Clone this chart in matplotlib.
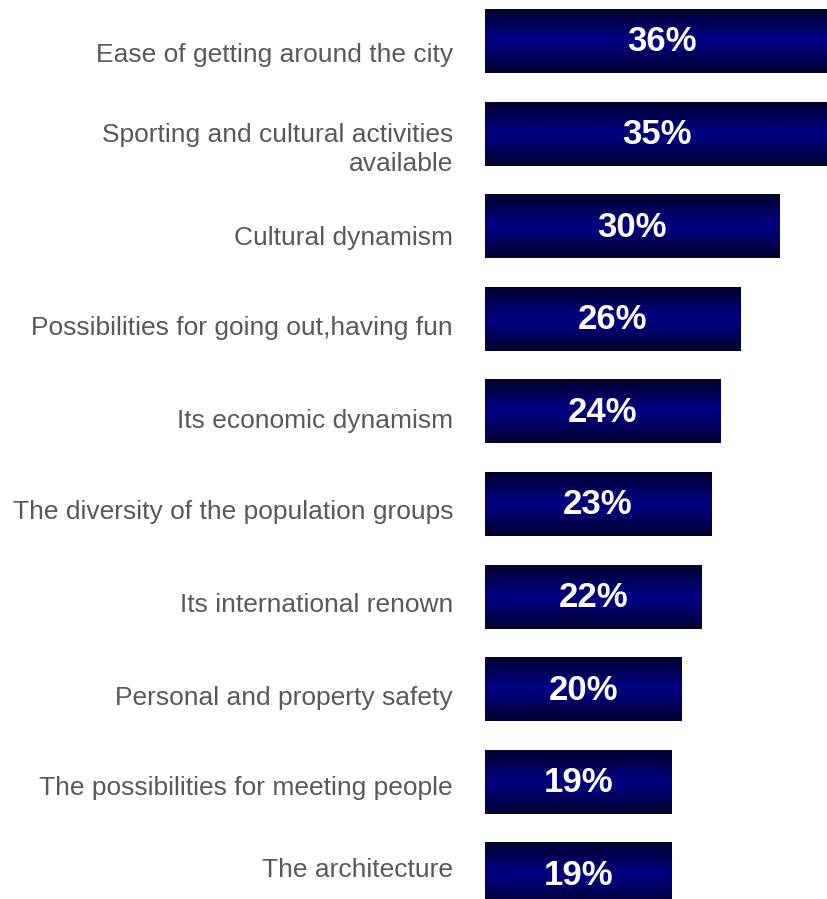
import numpy as np
import matplotlib.pyplot as plt
from matplotlib.colors import LinearSegmentedColormap
from matplotlib.transforms import ScaledTranslation

categories = [
    "Ease of getting around the city",
    "Sporting and cultural activities\navailable",
    "Cultural dynamism",
    "Possibilities for going out,having fun",
    "Its economic dynamism",
    "The diversity of the population groups",
    "Its international renown",
    "Personal and property safety",
    "The possibilities for meeting people",
    "The architecture",
]
values = [36, 35, 30, 26, 24, 23, 22, 20, 19, 19]

plt.rcParams['font.family'] = ['Liberation Sans', 'DejaVu Sans']

fig = plt.figure(figsize=(8.28, 8.99), dpi=100)
ax = fig.add_axes([485 / 828, 0, 343 / 828, 1])

# dark at top and bottom, navy in the middle
cmap = LinearSegmentedColormap.from_list('bar', [(0, '#000030'), (0.45, '#000080'),
                                                 (0.55, '#000080'), (1, '#000030')])
grad = np.linspace(0, 1, 64).reshape(-1, 1)

bar_h = 0.69
y = np.arange(len(values))
for yi, v in zip(y, values):
    ax.imshow(grad, cmap=cmap, aspect='auto', interpolation='bilinear',
              extent=(0, v, yi + bar_h / 2, yi - bar_h / 2), zorder=2)
    ax.text(v / 2, yi + 0.01, f'{v}%', color='white', fontsize=25, fontweight='bold',
            ha='center', va='center', zorder=3)

ax.set_xlim(0, 343 / 9.83)
ax.set_ylim(9.266, -0.443)
ax.set_yticks(y)
labels = ax.set_yticklabels(categories, fontsize=19, color='#595959', linespacing=1.25)
ax.tick_params(axis='y', length=0, pad=23)

# category labels sit a little lower than the bar centres in the original (px)
label_shift = [11, 11, 9.5, 7, 7, 6, 6, 6.5, 4, -7]
for lab, d in zip(labels, label_shift):
    lab.set_transform(lab.get_transform() + ScaledTranslation(0, -d / 100, fig.dpi_scale_trans))

ax.set_xticks([])
for s in ax.spines.values():
    s.set_visible(False)

fig.savefig('out.png', dpi=100)
